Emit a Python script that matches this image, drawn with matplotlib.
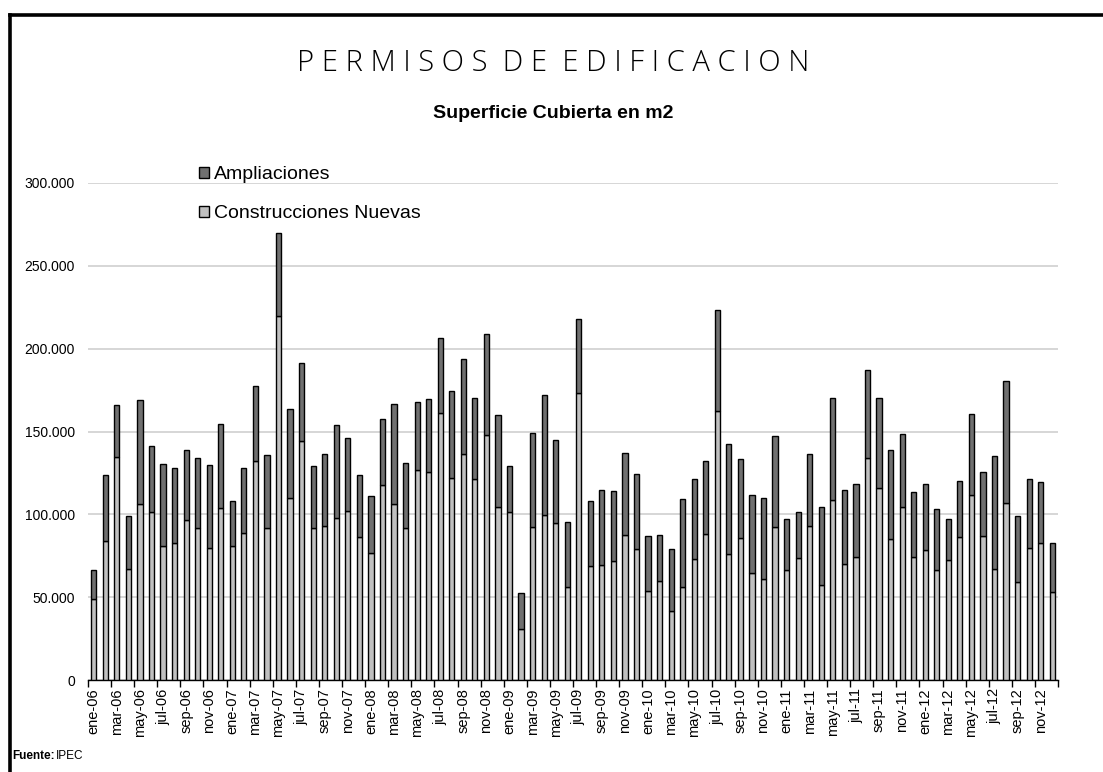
import matplotlib
matplotlib.use("Agg")
import matplotlib.pyplot as plt
from matplotlib.patches import Patch
from matplotlib.lines import Line2D
from matplotlib.ticker import FuncFormatter, FixedLocator

months = ["ene", "feb", "mar", "abr", "may", "jun", "jul", "ago", "sep", "oct", "nov", "dic"]
years = ["06", "07", "08", "09", "10", "11", "12"]
categories = [f"{m}-{y}" for y in years for m in months]

nuevas = [
    48.6, 83.9, 134.9, 67.1, 106.2, 101.4, 80.8, 82.7, 96.8, 91.7, 79.8, 103.6,
    80.8, 88.9, 132.3, 91.7, 219.5, 109.7, 144.5, 91.7, 93.1, 98.0, 102.0, 86.3,
    76.8, 117.9, 106.4, 91.5, 126.8, 125.6, 161.3, 121.8, 136.3, 121.2, 147.6, 104.2,
    101.4, 31.0, 92.3, 99.6, 95.0, 56.0, 173.4, 68.7, 69.6, 71.8, 87.5, 79.0,
    53.6, 59.7, 41.5, 56.0, 73.2, 88.3, 162.5, 75.8, 85.5, 64.7, 61.1, 92.3,
    66.1, 73.6, 92.7, 57.1, 108.5, 69.8, 74.2, 134.1, 116.1, 85.1, 104.2, 74.2,
    78.2, 66.3, 72.4, 86.5, 111.9, 86.9, 67.3, 106.8, 59.1, 79.6, 82.5, 53.0,
]
totales = [
    66.1, 123.8, 166.1, 99.0, 168.9, 141.3, 130.4, 127.8, 139.1, 134.3, 130.0, 154.4,
    108.3, 128.2, 177.2, 135.9, 269.9, 163.3, 191.1, 129.2, 136.3, 154.2, 145.8, 123.8,
    111.3, 157.4, 166.7, 130.8, 167.9, 169.5, 206.2, 174.4, 193.5, 170.4, 209.1, 160.1,
    129.2, 52.4, 149.2, 172.2, 144.7, 95.4, 217.9, 108.3, 114.5, 114.1, 136.9, 124.2,
    87.1, 87.3, 79.2, 109.5, 121.2, 132.0, 223.2, 142.7, 133.1, 111.7, 110.1, 147.4,
    97.0, 101.4, 136.3, 104.2, 170.2, 114.5, 118.3, 186.9, 170.4, 138.9, 148.2, 113.7,
    118.3, 103.2, 97.0, 120.4, 160.5, 125.6, 135.3, 180.6, 99.0, 121.4, 119.5, 82.7,
]
nuevas = [v * 1000 for v in nuevas]
ampliaciones = [t * 1000 - n for t, n in zip(totales, nuevas)]

c_light = "#c0c0c0"
c_dark = "#707070"

plt.rcParams["font.family"] = ["Liberation Sans", "DejaVu Sans"]

fig = plt.figure(figsize=(11.03, 7.72), dpi=100)
ax = fig.add_axes([88 / 1103, 1 - 680 / 772, (1058 - 88) / 1103, (680 - 183) / 772])

x = list(range(len(categories)))
ax.bar(x, nuevas, width=0.45, color=c_light, edgecolor="black", linewidth=1.0, zorder=3)
ax.bar(x, ampliaciones, bottom=nuevas, width=0.45, color=c_dark, edgecolor="black",
       linewidth=1.0, zorder=3)

ax.set_xlim(-0.5, len(categories) - 0.5)
ax.set_ylim(0, 300000)
ax.set_yticks(range(0, 300001, 50000))
ax.yaxis.set_major_formatter(FuncFormatter(lambda v, p: f"{int(v):,}".replace(",", ".")))
ax.yaxis.grid(True, color="#d0d0d0", linewidth=1.2, zorder=0)
ax.tick_params(axis="y", length=0, labelsize=10, pad=9.5)

ax.xaxis.set_major_locator(FixedLocator([i - 0.5 for i in range(0, len(categories) + 1, 2)]))
ax.xaxis.set_minor_locator(FixedLocator(list(range(0, len(categories), 2))))
ax.set_xticklabels([], minor=False)
ax.set_xticklabels(categories[::2], minor=True, rotation=90, fontsize=10.5)
ax.tick_params(axis="x", which="major", length=5, width=1, color="black", direction="out")
ax.tick_params(axis="x", which="minor", length=0, pad=6)

for s in ["top", "right", "left"]:
    ax.spines[s].set_visible(False)
ax.spines["bottom"].set_linewidth(1.0)

handles = [Patch(facecolor=c_dark, edgecolor="black", linewidth=1.0),
           Patch(facecolor=c_light, edgecolor="black", linewidth=1.0)]
fig.legend(handles, ["Ampliaciones", "Construcciones Nuevas"], loc="upper left",
           bbox_to_anchor=(199 / 1103, 1 - 166 / 772), frameon=False, fontsize=14,
           handlelength=0.5, handleheight=0.5, handletextpad=0.25, labelspacing=1.15,
           borderaxespad=0, borderpad=0)

fig.text(553 / 1103, 1 - 63 / 772, "P E R M I S O S  D E  E D I F I C A C I O N",
         ha="center", va="center", fontsize=21, family=["Open Sans", "DejaVu Sans"],
         fontweight="light")
fig.text(553 / 1103, 1 - 113 / 772, "Superficie Cubierta en m2", ha="center", va="center",
         fontsize=14, fontweight="bold")
fig.text(12 / 1103, 1 - 756 / 772, "Fuente:", ha="left", va="center", fontsize=8.5,
         fontweight="bold")
fig.text(56 / 1103, 1 - 756 / 772, "IPEC", ha="left", va="center", fontsize=8.5)

fig.add_artist(Line2D([10 / 1103, 10 / 1103], [0, 1 - 14.5 / 772], color="black",
                      linewidth=2.6, transform=fig.transFigure, solid_capstyle="projecting"))
fig.add_artist(Line2D([10 / 1103, 1], [1 - 14.5 / 772, 1 - 14.5 / 772], color="black",
                      linewidth=2.6, transform=fig.transFigure, solid_capstyle="projecting"))

fig.savefig("out.png", dpi=100)
